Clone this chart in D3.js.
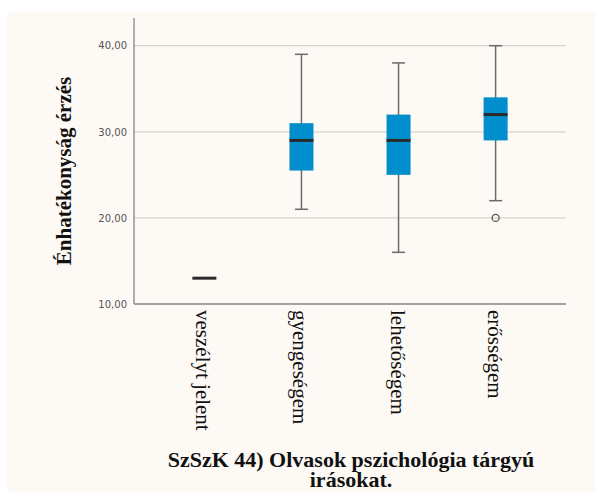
<!DOCTYPE html>
<html>
<head>
<meta charset="utf-8">
<script src="https://cdn.jsdelivr.net/npm/d3@7"></script>
<style>
  body { margin: 0; background: #ffffff; }
</style>
</head>
<body>
<svg id="chart"></svg>
<script>
// categories and box statistics
var categories = ["veszélyt jelent", "gyengeségem", "lehetőségem", "erősségem"];
var whiskerLow = [13, 21, 16, 22];
var q1 = [13, 25.5, 25, 29];
var median = [13, 29, 29, 32];
var q3 = [13, 31, 32, 34];
var whiskerHigh = [13, 39, 38, 40];
var outliers = [[], [], [], [20]];
var yTicks = [10, 20, 30, 40];

var width = 595, height = 492;

var svg = d3.select("#chart")
  .attr("width", width)
  .attr("height", height);

// off-white panel
svg.append("rect")
  .attr("x", 7).attr("y", 12)
  .attr("width", width - 7).attr("height", height - 12)
  .attr("fill", "#fdf9f5");

var plotLeft = 134, plotRight = 566, plotTop = 18, plotBottom = 304;

var yScale = d3.scaleLinear()
  .domain([10, 40])
  .range([plotBottom, 45.7]);

var xScale = d3.scalePoint()
  .domain(categories)
  .range([plotLeft, plotRight])
  .padding(0.725);

// gridlines
svg.append("g")
  .selectAll("line")
  .data(yTicks.filter(d => d > 10))
  .enter()
  .append("line")
  .attr("x1", plotLeft).attr("x2", plotRight)
  .attr("y1", d => yScale(d)).attr("y2", d => yScale(d))
  .attr("stroke", "#dcd2cc")
  .attr("stroke-width", 1.2);

// y axis
var yAxis = d3.axisLeft(yScale)
  .tickValues(yTicks)
  .tickSize(0)
  .tickPadding(7)
  .tickFormat(d => d3.format(".2f")(d).replace(".", ","));

var yG = svg.append("g")
  .attr("transform", "translate(" + plotLeft + ",0)")
  .call(yAxis);
yG.select(".domain").remove();
yG.selectAll("text")
  .style("font-family", "'DejaVu Sans', sans-serif")
  .style("font-size", "10px")
  .style("fill", "#555");

svg.append("line")
  .attr("x1", plotLeft).attr("x2", plotLeft)
  .attr("y1", plotTop).attr("y2", plotBottom)
  .attr("stroke", "#8a8584").attr("stroke-width", 1.3);
svg.append("line")
  .attr("x1", plotLeft).attr("x2", plotRight)
  .attr("y1", plotBottom).attr("y2", plotBottom)
  .attr("stroke", "#8a8584").attr("stroke-width", 1.3);

// boxes
var boxW = 24, capW = 13;
var rows = categories.map((c, i) => ({
  cat: c, lo: whiskerLow[i], q1: q1[i], med: median[i], q3: q3[i], hi: whiskerHigh[i], out: outliers[i]
}));

var g = svg.append("g").selectAll("g")
  .data(rows)
  .enter()
  .append("g")
  .attr("transform", d => "translate(" + xScale(d.cat) + ",0)");

var withBox = g.filter(d => d.hi > d.lo);

withBox.append("line")
  .attr("x1", 0).attr("x2", 0)
  .attr("y1", d => yScale(d.hi)).attr("y2", d => yScale(d.lo))
  .attr("stroke", "#6b6b6b").attr("stroke-width", 1.5);

withBox.selectAll(".cap")
  .data(d => [d.lo, d.hi])
  .enter()
  .append("line")
  .attr("x1", -capW / 2).attr("x2", capW / 2)
  .attr("y1", v => yScale(v)).attr("y2", v => yScale(v))
  .attr("stroke", "#6b6b6b").attr("stroke-width", 1.5);

withBox.append("rect")
  .attr("x", -boxW / 2)
  .attr("width", boxW)
  .attr("y", d => yScale(d.q3))
  .attr("height", d => yScale(d.q1) - yScale(d.q3))
  .attr("fill", "#008fcc");

g.append("line")
  .attr("x1", -boxW / 2).attr("x2", boxW / 2)
  .attr("y1", d => yScale(d.med)).attr("y2", d => yScale(d.med))
  .attr("stroke", "#2a2a2a").attr("stroke-width", 3);

g.selectAll(".outlier")
  .data(d => d.out)
  .enter()
  .append("circle")
  .attr("cx", 0).attr("cy", v => yScale(v))
  .attr("r", 3.5)
  .attr("fill", "none")
  .attr("stroke", "#555").attr("stroke-width", 1.3);

// category labels, rotated
svg.append("g").selectAll("text")
  .data(categories)
  .enter()
  .append("text")
  .attr("transform", d => "translate(" + (xScale(d) - 8) + ",310) rotate(90)")
  .attr("text-anchor", "start")
  .style("font-family", "'Liberation Serif', 'Times New Roman', serif")
  .style("font-size", "21px")
  .style("fill", "#111")
  .text(d => d);

// y title
svg.append("text")
  .attr("transform", "translate(71,171) rotate(-90)")
  .attr("text-anchor", "middle")
  .style("font-family", "'Liberation Serif', 'Times New Roman', serif")
  .style("font-weight", "bold")
  .style("font-size", "21px")
  .style("fill", "#111")
  .text("Énhatékonyság érzés");

// x title
var xt = svg.append("text")
  .attr("text-anchor", "middle")
  .style("font-family", "'Liberation Serif', 'Times New Roman', serif")
  .style("font-weight", "bold")
  .style("font-size", "22px")
  .style("fill", "#111");
xt.append("tspan").attr("x", 351).attr("y", 467).text("SzSzK 44) Olvasok pszichológia tárgyú");
xt.append("tspan").attr("x", 351).attr("y", 487).text("irásokat.");
</script>
</body>
</html>
